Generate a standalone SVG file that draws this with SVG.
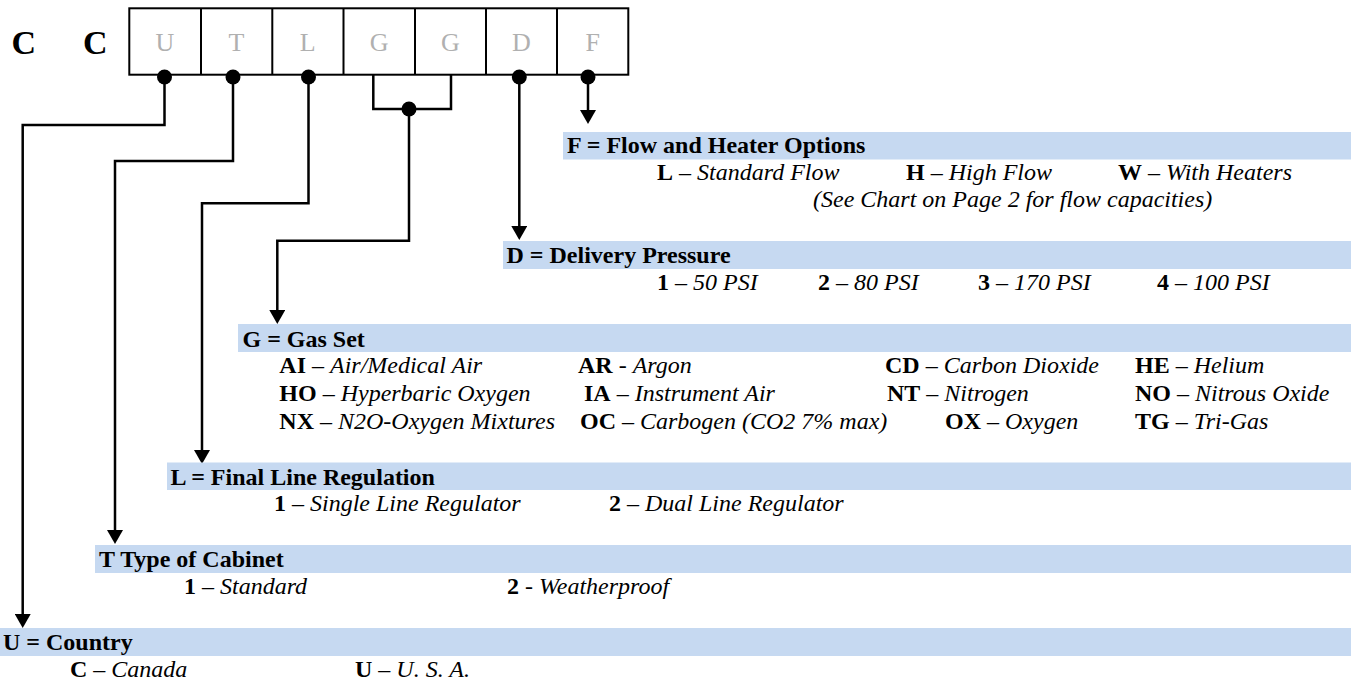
<svg xmlns="http://www.w3.org/2000/svg" width="1351" height="680" viewBox="0 0 1351 680">
  <style>
    .bar { fill: #c6d9f1; }
    .txt { font-family: "Liberation Serif", "Times New Roman", serif; font-size: 24px; fill: #000; }
    .hd { font-weight: bold; }
    .b { font-weight: bold; }
    .i { font-style: italic; }
    .code { font-family: "Liberation Serif", "Times New Roman", serif; font-size: 34px; font-weight: bold; fill: #000; }
    .cell { fill: none; stroke: #000; stroke-width: 2; }
    .letter { font-family: "Liberation Serif", "Times New Roman", serif; font-size: 26px; fill: #b0b0b0; text-anchor: middle; }
    .wire { fill: none; stroke: #000; stroke-width: 2.5; }
    .dot { fill: #000; }
  </style>
  <defs>
    <marker id="arrow" viewBox="0 0 14 16" refX="6" refY="8" markerWidth="14" markerHeight="16" markerUnits="userSpaceOnUse" orient="auto">
      <path d="M0 0 L14 8 L0 16 Z" fill="#000"/>
    </marker>
  </defs>

  <rect width="1351" height="680" fill="#fff"/>

  <!-- model code header -->
  <g id="code-header">
    <text class="code" x="11.5" y="54">C</text>
    <text class="code" x="83" y="54">C</text>
    <rect class="cell" x="129.3" y="8.3" width="499" height="66.4"/>
    <path class="cell" d="M201 8.3 V74.7 M272.3 8.3 V74.7 M343.5 8.3 V74.7 M415 8.3 V74.7 M486 8.3 V74.7 M557 8.3 V74.7"/>
    <text class="letter" x="165" y="51">U</text>
    <text class="letter" x="236.5" y="51">T</text>
    <text class="letter" x="307.8" y="51">L</text>
    <text class="letter" x="379.2" y="51">G</text>
    <text class="letter" x="450.5" y="51">G</text>
    <text class="letter" x="521.5" y="51">D</text>
    <text class="letter" x="592.8" y="51">F</text>
  </g>

  <!-- connectors from each code position to its option block -->
  <g id="connectors">
    <path class="wire" d="M164.5 77 V125 H22.7 V620" marker-end="url(#arrow)"/>
    <path class="wire" d="M233 77 V161 H115 V536" marker-end="url(#arrow)"/>
    <path class="wire" d="M308.5 77 V203.3 H202 V456" marker-end="url(#arrow)"/>
    <path class="wire" d="M373.3 74.7 V109 H451 V74.7"/>
    <path class="wire" d="M409 109 V240.7 H277.3 V316" marker-end="url(#arrow)"/>
    <path class="wire" d="M519.3 77 V232" marker-end="url(#arrow)"/>
    <path class="wire" d="M588 77 V116" marker-end="url(#arrow)"/>
    <circle class="dot" cx="164.5" cy="77" r="7.5"/>
    <circle class="dot" cx="233" cy="77" r="7.5"/>
    <circle class="dot" cx="308.5" cy="77" r="7.5"/>
    <circle class="dot" cx="409" cy="109" r="7.5"/>
    <circle class="dot" cx="519.3" cy="77" r="7.5"/>
    <circle class="dot" cx="588" cy="77" r="7.5"/>
  </g>

  <!-- F: flow and heater options -->
  <g id="opt-F" class="txt">
    <rect class="bar" x="563" y="132" width="788" height="27.5"/>
    <text class="hd" x="567" y="153">F = Flow and Heater Options</text>
    <text x="657" y="180"><tspan class="b">L</tspan> – <tspan class="i">Standard Flow</tspan></text>
    <text x="906" y="180"><tspan class="b">H</tspan> – <tspan class="i">High Flow</tspan></text>
    <text x="1118" y="180"><tspan class="b">W</tspan> – <tspan class="i">With Heaters</tspan></text>
    <text class="i" x="813" y="207">(See Chart on Page 2 for flow capacities)</text>
  </g>

  <!-- D: delivery pressure -->
  <g id="opt-D" class="txt">
    <rect class="bar" x="503" y="241" width="848" height="28"/>
    <text class="hd" x="506.5" y="263">D = Delivery Pressure</text>
    <text x="657" y="290"><tspan class="b">1</tspan> – <tspan class="i">50 PSI</tspan></text>
    <text x="818" y="290"><tspan class="b">2</tspan> – <tspan class="i">80 PSI</tspan></text>
    <text x="978" y="290"><tspan class="b">3</tspan> – <tspan class="i">170 PSI</tspan></text>
    <text x="1157" y="290"><tspan class="b">4</tspan> – <tspan class="i">100 PSI</tspan></text>
  </g>

  <!-- G: gas set -->
  <g id="opt-G" class="txt">
    <rect class="bar" x="238" y="324" width="1113" height="28"/>
    <text class="hd" x="242.5" y="346.5">G = Gas Set</text>
    <text x="279.3" y="372.5"><tspan class="b">AI</tspan> – <tspan class="i">Air/Medical Air</tspan></text>
    <text x="578" y="372.5"><tspan class="b">AR</tspan> - <tspan class="i">Argon</tspan></text>
    <text x="885" y="372.5"><tspan class="b">CD</tspan> – <tspan class="i">Carbon Dioxide</tspan></text>
    <text x="1135" y="372.5"><tspan class="b">HE</tspan> – <tspan class="i">Helium</tspan></text>
    <text x="279.3" y="400.5"><tspan class="b">HO</tspan> – <tspan class="i">Hyperbaric Oxygen</tspan></text>
    <text x="584" y="400.5"><tspan class="b">IA</tspan> – <tspan class="i">Instrument Air</tspan></text>
    <text x="887" y="400.5"><tspan class="b">NT</tspan> – <tspan class="i">Nitrogen</tspan></text>
    <text x="1135" y="400.5"><tspan class="b">NO</tspan> – <tspan class="i">Nitrous Oxide</tspan></text>
    <text x="279.3" y="428.5"><tspan class="b">NX</tspan> – <tspan class="i">N2O-Oxygen Mixtures</tspan></text>
    <text x="580" y="428.5"><tspan class="b">OC</tspan> – <tspan class="i">Carbogen (CO2 7% max)</tspan></text>
    <text x="945" y="428.5"><tspan class="b">OX</tspan> – <tspan class="i">Oxygen</tspan></text>
    <text x="1135" y="428.5"><tspan class="b">TG</tspan> – <tspan class="i">Tri-Gas</tspan></text>
  </g>

  <!-- L: final line regulation -->
  <g id="opt-L" class="txt">
    <rect class="bar" x="167" y="462.5" width="1184" height="27.5"/>
    <text class="hd" x="170.5" y="485">L = Final Line Regulation</text>
    <text x="274" y="511"><tspan class="b">1</tspan> – <tspan class="i">Single Line Regulator</tspan></text>
    <text x="609" y="511"><tspan class="b">2</tspan> – <tspan class="i">Dual Line Regulator</tspan></text>
  </g>

  <!-- T: type of cabinet -->
  <g id="opt-T" class="txt">
    <rect class="bar" x="95" y="545" width="1256" height="28"/>
    <text class="hd" x="99" y="567">T Type of Cabinet</text>
    <text x="184" y="594"><tspan class="b">1</tspan> – <tspan class="i">Standard</tspan></text>
    <text x="507" y="594"><tspan class="b">2</tspan> - <tspan class="i">Weatherproof</tspan></text>
  </g>

  <!-- U: country -->
  <g id="opt-U" class="txt">
    <rect class="bar" x="0" y="628" width="1351" height="28"/>
    <text class="hd" x="3" y="650">U = Country</text>
    <text x="70" y="677"><tspan class="b">C</tspan> – <tspan class="i">Canada</tspan></text>
    <text x="355" y="677"><tspan class="b">U</tspan> – <tspan class="i">U. S. A.</tspan></text>
  </g>
</svg>
